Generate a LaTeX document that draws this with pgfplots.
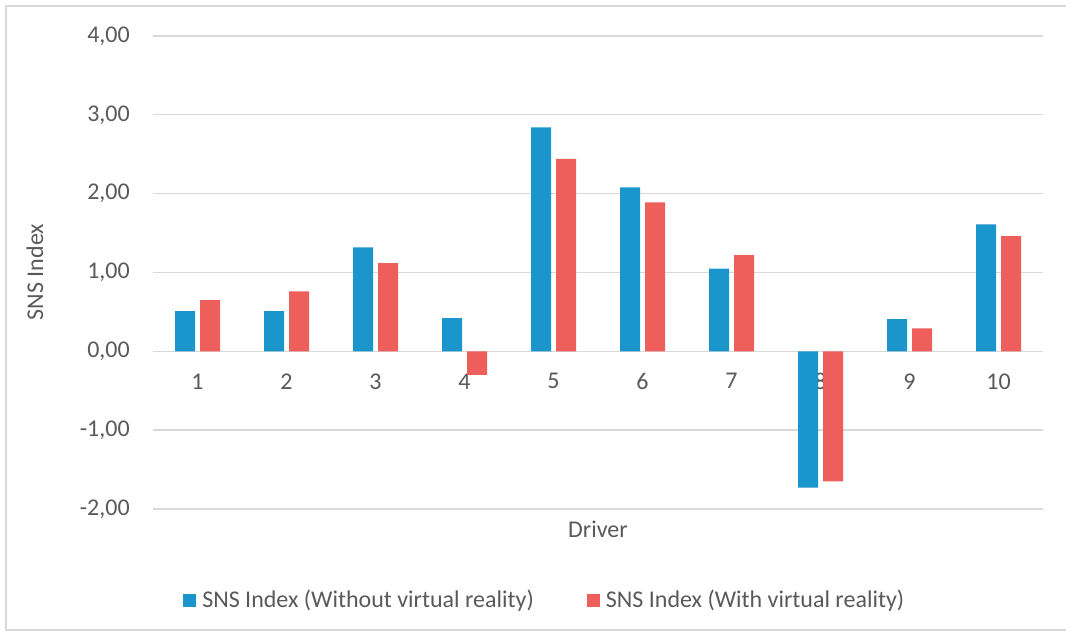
\documentclass[border=0pt]{standalone}
\usepackage{pgfplots}
\pgfplotsset{compat=1.18}
\usepackage{fontspec}
\setmainfont{Carlito}
\definecolor{cblue}{RGB}{27,150,204}
\definecolor{cred}{RGB}{238,94,90}
\definecolor{ctext}{RGB}{89,89,89}
\definecolor{cgrid}{RGB}{217,217,217}
\begin{document}
\begin{tikzpicture}
\useasboundingbox (0,0) rectangle (799.5pt,476.25pt);
\draw[cgrid, line width=1.5pt] (810pt,471.75pt) -- (4.5pt,471.75pt) -- (4.5pt,3.75pt) -- (810pt,3.75pt);
\begin{axis}[
  at={(114.75pt,94.5pt)}, anchor=south west,
  scale only axis, width=667.5pt, height=354.75pt,
  font=\fontsize{18pt}{21pt}\selectfont, 
  ybar=3.75pt, bar width=15pt,
  xmin=0.5, xmax=10.5, ymin=-2, ymax=4,
  xtick={1,...,10}, ytick={-2,-1,0,1,2,3,4},
  axis x line=middle, axis y line=left,
  x axis line style={cgrid, line width=1pt, -},
  y axis line style={draw=none},
  major tick length=0pt,
  ymajorgrids, grid style={cgrid, line width=1pt},
  tick label style={text=ctext},
  /pgf/number format/assume math mode=true,
  yticklabel style={/pgf/number format/.cd, fixed, fixed zerofill, precision=2, use comma, /tikz/.cd, anchor=east, inner sep=0pt, xshift=-17.25pt},
  xticklabel style={anchor=north, inner sep=0pt, yshift=-16.5pt},
  every axis x label/.style={at={(axis description cs:0.5,-0.0423)}, anchor=center, text=ctext},
  every axis y label/.style={at={(axis description cs:-0.1326,0.501)}, rotate=90, anchor=center, text=ctext},
  xlabel={Driver}, ylabel={SNS Index},
  legend columns=2,
  legend style={at={(axis description cs:0.0337,-0.1924)}, anchor=west, draw=none, fill=none, inner sep=0pt,
    nodes={inner sep=0pt, text=ctext},
    /tikz/every odd column/.append style={column sep=4.5pt},
    /tikz/every even column/.append style={column sep=39.75pt}},
  legend image code/.code={\fill[#1] (0pt,-4.875pt) rectangle (9.75pt,4.875pt);},
]
\addplot[fill=cblue, draw=none] coordinates {(1,0.51) (2,0.51) (3,1.32) (4,0.42) (5,2.84) (6,2.08) (7,1.05) (8,-1.73) (9,0.41) (10,1.61)};
\addplot[fill=cred, draw=none] coordinates {(1,0.65) (2,0.76) (3,1.12) (4,-0.30) (5,2.44) (6,1.89) (7,1.22) (8,-1.65) (9,0.29) (10,1.46)};
\legend{SNS Index (Without virtual reality), SNS Index (With virtual reality)}
\end{axis}
\end{tikzpicture}
\end{document}
